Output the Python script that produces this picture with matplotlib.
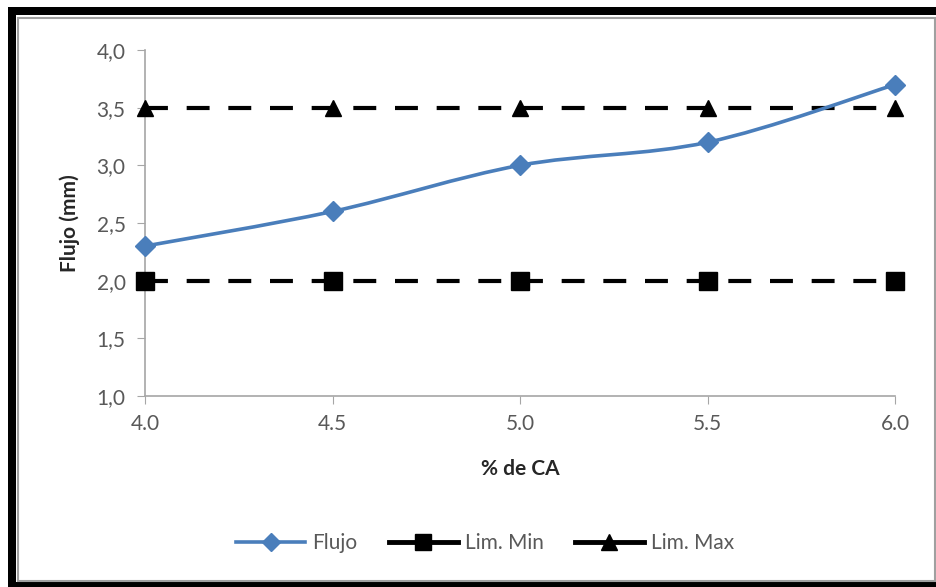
import numpy as np
import matplotlib
matplotlib.use('Agg')
import matplotlib.pyplot as plt
from matplotlib.lines import Line2D
from matplotlib.path import Path
from matplotlib.patches import PathPatch, Rectangle

# data
ca = [4.0, 4.5, 5.0, 5.5, 6.0]
flujo = [2.3, 2.6, 3.0, 3.2, 3.7]
lim_min = [2.0, 2.0, 2.0, 2.0, 2.0]
lim_max = [3.5, 3.5, 3.5, 3.5, 3.5]
x_ticks = [4.0, 4.5, 5.0, 5.5, 6.0]
x_ticklabels = ['4.0', '4.5', '5.0', '5.5', '6.0']
y_ticks = [1.0, 1.5, 2.0, 2.5, 3.0, 3.5, 4.0]
y_ticklabels = ['1,0', '1,5', '2,0', '2,5', '3,0', '3,5', '4,0']

BLUE = '#4a7ebb'
GREY = '#595959'
plt.rcParams['font.family'] = ['Lato', 'DejaVu Sans']


def smooth_path(xs, ys):
    # Excel-like smoothed line: Catmull-Rom segments as cubic beziers
    pts = np.column_stack([xs, ys])
    n = len(pts)
    verts = [pts[0]]
    codes = [Path.MOVETO]
    for i in range(n - 1):
        p0 = pts[i - 1] if i > 0 else pts[i]
        p1 = pts[i]
        p2 = pts[i + 1]
        p3 = pts[i + 2] if i + 2 < n else pts[i + 1]
        c1 = p1 + (p2 - p0) / 6.0
        c2 = p2 - (p3 - p1) / 6.0
        verts += [c1, c2, p2]
        codes += [Path.CURVE4] * 3
    return Path(verts, codes)


fig = plt.figure(figsize=(9.37, 5.87), dpi=100)
ax = fig.add_axes([0.1548, 0.3254, 0.8004, 0.5894])

dash = dict(color='black', lw=3, dashes=(5.5, 4.5), clip_on=False)
ax.plot(ca, lim_min, marker='s', markersize=13, **dash, zorder=3)
ax.plot(ca, lim_max, marker='^', markersize=12, **dash, zorder=3)

ax.add_patch(PathPatch(smooth_path(ca, flujo), facecolor='none',
                       edgecolor=BLUE, lw=2.6, zorder=4, clip_on=False))
ax.plot(ca, flujo, ls='none', marker='D', markersize=10, color=BLUE,
        zorder=5, clip_on=False)

ax.set_xlim(4.0, 6.0)
ax.set_ylim(1.0, 4.0)
ax.set_xticks(x_ticks)
ax.set_xticklabels(x_ticklabels)
ax.set_yticks(y_ticks)
ax.set_yticklabels(y_ticklabels)
ax.tick_params(axis='both', direction='out', length=6, color='#a6a6a6',
               labelcolor=GREY, labelsize=15)
ax.tick_params(axis='x', pad=7)
ax.tick_params(axis='y', pad=8)
for s in ['top', 'right']:
    ax.spines[s].set_visible(False)
for s in ['left', 'bottom']:
    ax.spines[s].set_color('#a6a6a6')
    ax.spines[s].set_linewidth(1.2)

ax.set_xlabel('% de CA', fontsize=15, fontweight='bold', color='#262626', labelpad=18)
ax.set_ylabel('Flujo (mm)', fontsize=15, fontweight='bold', color='#262626', labelpad=12)

handles = [
    Line2D([], [], color=BLUE, lw=2.6, marker='D', markersize=9),
    Line2D([], [], color='black', lw=3.5, marker='s', markersize=12),
    Line2D([], [], color='black', lw=3.5, marker='^', markersize=11),
]
fig.legend(handles, ['Flujo', 'Lim. Min', 'Lim. Max'], loc='center',
           bbox_to_anchor=(0.518, 0.075), ncol=3, frameon=False, fontsize=15,
           handlelength=3.3, columnspacing=1.5, handletextpad=0.35,
           labelcolor=GREY)

# outer frame: thick black on left/top/bottom, thin grey inner border
W, H = 937.0, 587.0
fig.patches.append(Rectangle((8 / W, 0), 8 / W, 1 - 7 / H, transform=fig.transFigure,
                             facecolor='black', edgecolor='none'))
fig.patches.append(Rectangle((8 / W, 1 - 15 / H), 1 - 8 / W, 8 / H, transform=fig.transFigure,
                             facecolor='black', edgecolor='none'))
fig.patches.append(Rectangle((8 / W, 0), 1 - 8 / W, 5 / H, transform=fig.transFigure,
                             facecolor='black', edgecolor='none'))
fig.patches.append(Rectangle((18 / W, 6 / H), 1 - 20 / W, 1 - 24 / H, transform=fig.transFigure,
                             facecolor='none', edgecolor='#a0a0a0', lw=1.5))

fig.savefig('out.png', dpi=100)
